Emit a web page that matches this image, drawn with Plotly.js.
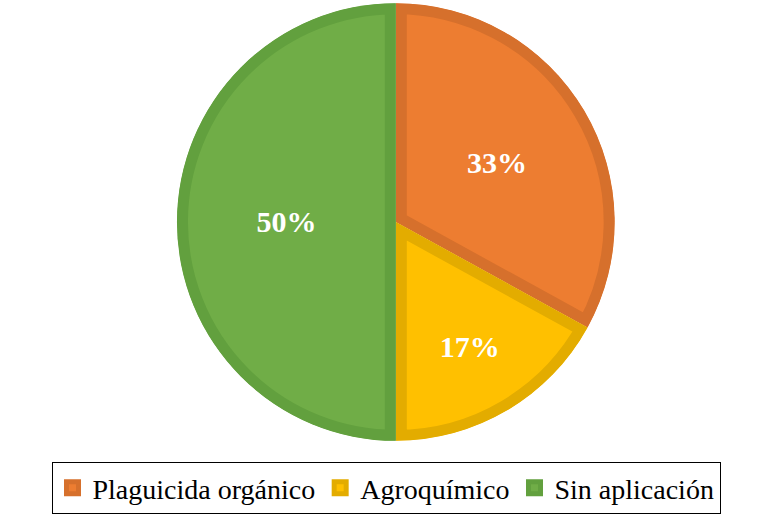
<!DOCTYPE html>
<html>
<head>
<meta charset="utf-8">
<script src="https://cdn.plot.ly/plotly-3.0.1.min.js"></script>
<style>
body { margin: 0; background: #fff; font-family: "Liberation Serif", serif; }
#chart { width: 783px; height: 531px; }
</style>
</head>
<body>
<div id="chart"></div>
<script>
// data
var labels = ['Plaguicida orgánico', 'Agroquímico', 'Sin aplicación'];
var values = [33, 17, 50];
var fillColors = ['#ED7D31', '#FFC000', '#70AD47'];
var edgeColors = ['#D6702C', '#E3AC00', '#62A03E'];

var serif = '"Liberation Serif", "Times New Roman", serif';

var trace = {
    type: 'pie',
    labels: labels,
    values: values,
    sort: false,
    direction: 'clockwise',
    rotation: 0,
    domain: {x: [0.226, 0.785], y: [0.1695, 0.9944]},
    marker: {colors: fillColors, line: {color: edgeColors, width: 22}},
    texttemplate: '%{value}%',
    textposition: 'inside',
    insidetextorientation: 'horizontal',
    textfont: {family: serif, size: 30, color: '#ffffff', weight: 'bold'},
    hoverinfo: 'none'
};

var layout = {
    width: 783,
    height: 531,
    margin: {l: 0, r: 0, t: 0, b: 0},
    font: {family: serif, color: '#000000'},
    showlegend: true,
    legend: {
        orientation: 'h',
        x: 0.493, xanchor: 'center',
        y: 0.13, yanchor: 'top',
        bordercolor: '#000000',
        borderwidth: 1,
        font: {family: serif, size: 28, color: '#000000'}
    }
};

var config = {staticPlot: true};

function clipSlices(gd) {
    // keep each slice outline inside its own slice (inner stroke)
    var defs = gd.querySelector('.main-svg defs');
    var ns = 'http://www.w3.org/2000/svg';
    gd.querySelectorAll('.pielayer .slice path.surface').forEach(function(p, i) {
        var cp = document.createElementNS(ns, 'clipPath');
        cp.setAttribute('id', 'sliceclip' + i);
        var cpath = document.createElementNS(ns, 'path');
        cpath.setAttribute('d', p.getAttribute('d'));
        cp.appendChild(cpath);
        defs.appendChild(cp);
        p.setAttribute('clip-path', 'url(#sliceclip' + i + ')');
    });
}

var fontsReady = Promise.all([
    document.fonts.load('28px "Liberation Serif"', 'Plaguicida orgánico'),
    document.fonts.load('bold 30px "Liberation Serif"', '33%')
]).catch(function() {});

fontsReady.then(function() {
    return Plotly.newPlot('chart', [trace], layout, config);
}).then(function(gd) {
    clipSlices(gd);
    // nudge a repaint once fonts are settled
    document.fonts.ready.then(function() {
        gd.querySelectorAll('.legendtext').forEach(function(t) {
            t.style.fontFamily = serif;
        });
    });
});
</script>
</body>
</html>
